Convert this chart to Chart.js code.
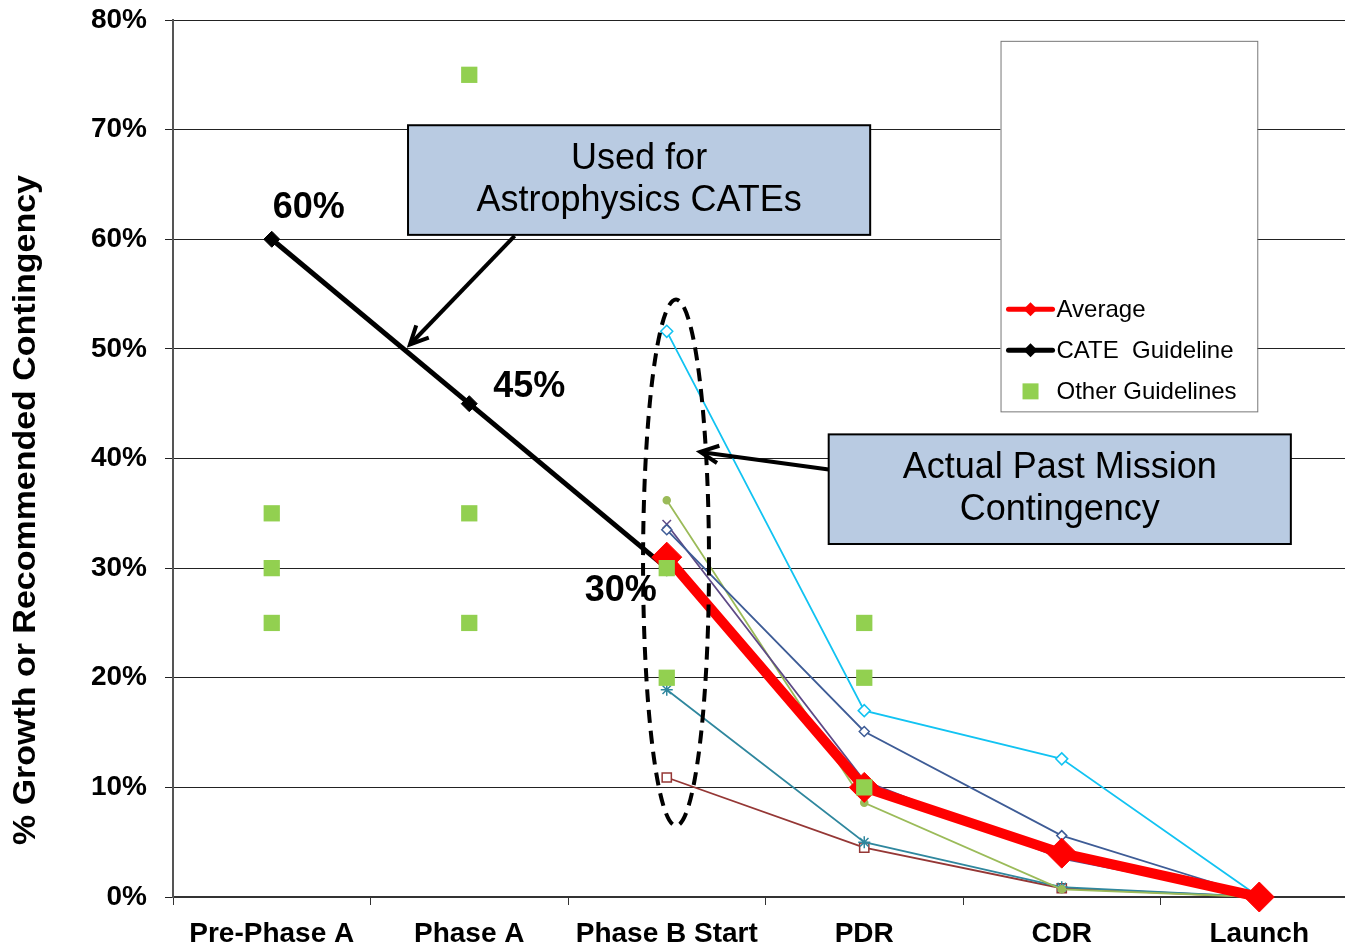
<!DOCTYPE html>
<html>
<head>
<meta charset="utf-8" />
<title>Contingency by Project Phase</title>
<style>
    body { margin: 0; background: #fff; overflow: hidden; }
    #chart { display: block; }
</style>
<script src="https://cdn.jsdelivr.net/npm/chart.js"></script>
</head>
<body>
<canvas id="chart" width="1358" height="948"></canvas>
<script>
// categories and values (percent)
const phases = ['Pre-Phase A', 'Phase A', 'Phase B Start', 'PDR', 'CDR', 'Launch'];

const averageVals = [null, null, 31, 10, 4, 0];
const cateVals    = [60, 45, 30, null, null, null];

const missionCyan   = [null, null, 51.6, 17.0, 12.6, 0];
const missionBlue   = [null, null, 33.5, 15.1, 5.6, 0];
const missionPurple = [null, null, 34.0, 10.6, 3.5, 0];
const missionOlive  = [null, null, 36.2, 8.6, 0.7, 0];
const missionTeal   = [null, null, 18.9, 5.0, 0.9, 0];
const missionBrown  = [null, null, 10.9, 4.5, 0.8, 0];

const otherPhases = ['Pre-Phase A', 'Pre-Phase A', 'Pre-Phase A', 'Phase A', 'Phase A', 'Phase A',
                     'Phase B Start', 'Phase B Start', 'PDR', 'PDR', 'PDR'];
const otherVals   = [35, 30, 25, 75, 35, 25, 30, 20, 25, 20, 10];

const FONT = '"Liberation Sans", Arial, sans-serif';

// callout boxes, placed in axis units (category index, percent)
const callouts = [
    { lines: ['Used for', 'Astrophysics CATEs'], x0: 0.69, x1: 3.03, y0: 70.4, y1: 60.4,
      arrowFrom: [1.23, 60.3], arrowTo: [0.70, 50.4] },
    { lines: ['Actual Past Mission', 'Contingency'], x0: 2.82, x1: 5.16, y0: 42.2, y1: 32.2,
      arrowFrom: [2.82, 39.0], arrowTo: [2.17, 40.6] }
];
const cateLabelOffsets = [[37, -31], [60, -17], [-46, 23]];

function thinSeries(label, data, color, style, radius, fill) {
    return {
        label, data, borderColor: color, backgroundColor: fill || '#fff',
        borderWidth: 1.8, pointStyle: style, pointRadius: radius,
        pointBorderWidth: 1.5, pointBorderColor: color, order: 3, spanGaps: false, clip: false
    };
}

function arrow(ctx, x0, y0, x1, y1) {
    ctx.beginPath();
    ctx.moveTo(x0, y0);
    ctx.lineTo(x1, y1);
    ctx.stroke();
    const a = Math.atan2(y1 - y0, x1 - x0), L = 20;
    ctx.beginPath();
    ctx.moveTo(x1 - L * Math.cos(a - 0.45), y1 - L * Math.sin(a - 0.45));
    ctx.lineTo(x1, y1);
    ctx.lineTo(x1 - L * Math.cos(a + 0.45), y1 - L * Math.sin(a + 0.45));
    ctx.stroke();
}

const overlay = {
    id: 'overlay',
    afterDatasetsDraw(chart) {
        const { ctx, scales: { x, y } } = chart;
        const px = v => x.getPixelForValue(v), py = v => y.getPixelForValue(v);
        ctx.save();

        // dashed ellipse round the Phase B Start values
        ctx.strokeStyle = '#000';
        ctx.lineWidth = 4;
        ctx.setLineDash([13, 8]);
        ctx.beginPath();
        const ex = px(2.047), ey = py(30.5);
        ctx.ellipse(ex, ey, px(2.047 + 0.167) - ex, py(30.5 - 24) - ey, 0, 0, Math.PI * 2);
        ctx.stroke();
        ctx.setLineDash([]);

        // callout boxes with arrows
        callouts.forEach(c => {
            const x0 = px(c.x0), x1 = px(c.x1), y0 = py(c.y0), y1 = py(c.y1);
            ctx.fillStyle = '#B9CBE2';
            ctx.fillRect(x0, y0, x1 - x0, y1 - y0);
            ctx.strokeStyle = '#000';
            ctx.lineWidth = 2;
            ctx.strokeRect(x0, y0, x1 - x0, y1 - y0);
            ctx.fillStyle = '#000';
            ctx.font = '36px ' + FONT;
            ctx.textAlign = 'center';
            ctx.textBaseline = 'middle';
            const cx = (x0 + x1) / 2, cy = (y0 + y1) / 2;
            ctx.fillText(c.lines[0], cx, cy - 21);
            ctx.fillText(c.lines[1], cx, cy + 21);
            ctx.lineWidth = 4;
            arrow(ctx, px(c.arrowFrom[0]), py(c.arrowFrom[1]), px(c.arrowTo[0]), py(c.arrowTo[1]));
        });

        // value labels next to the CATE guideline
        ctx.font = 'bold 36px ' + FONT;
        ctx.fillStyle = '#000';
        ctx.textAlign = 'center';
        ctx.textBaseline = 'middle';
        cateVals.forEach((v, i) => {
            if (v === null) return;
            const o = cateLabelOffsets[i];
            ctx.fillText(v + '%', px(i) + o[0], py(v) + o[1]);
        });
        ctx.restore();
    },
    afterDraw(chart) {
        const { ctx, scales: { x, y } } = chart;
        const px = v => x.getPixelForValue(v), py = v => y.getPixelForValue(v);
        ctx.save();

        // legend box
        const lx0 = px(3.69), lx1 = px(4.99), ly0 = py(78.1), ly1 = py(44.3);
        ctx.fillStyle = '#fff';
        ctx.fillRect(lx0, ly0, lx1 - lx0, ly1 - ly0);
        ctx.strokeStyle = '#777';
        ctx.lineWidth = 1;
        ctx.strokeRect(lx0 + 0.5, ly0 + 0.5, lx1 - lx0, ly1 - ly0);

        const rows = [
            { text: 'Average', color: '#FF0000', kind: 'line' },
            { text: 'CATE  Guideline', color: '#000', kind: 'line' },
            { text: 'Other Guidelines', color: '#92D050', kind: 'square' }
        ];
        ctx.font = '24px ' + FONT;
        ctx.textBaseline = 'middle';
        ctx.textAlign = 'left';
        rows.forEach((r, i) => {
            const ry = ly1 - 102 + i * 41;
            const sx0 = lx0 + 8, sx1 = lx0 + 52;
            if (r.kind === 'line') {
                ctx.strokeStyle = r.color;
                ctx.lineWidth = 5;
                ctx.lineCap = 'round';
                ctx.beginPath();
                ctx.moveTo(sx0, ry); ctx.lineTo(sx1, ry); ctx.stroke();
                ctx.fillStyle = r.color;
                ctx.beginPath();
                const m = (sx0 + sx1) / 2;
                ctx.moveTo(m, ry - 7); ctx.lineTo(m + 7, ry); ctx.lineTo(m, ry + 7); ctx.lineTo(m - 7, ry);
                ctx.fill();
            } else {
                ctx.fillStyle = r.color;
                ctx.fillRect((sx0 + sx1) / 2 - 8, ry - 8, 16, 16);
            }
            ctx.fillStyle = '#000';
            ctx.fillText(r.text, lx0 + 56, ry + 1);
        });

        // y axis title, condensed to the reference length
        const title = '% Growth or Recommended Contingency';
        ctx.font = 'bold 31px ' + FONT;
        const w = ctx.measureText(title).width;
        ctx.translate(26, 510);
        ctx.rotate(-Math.PI / 2);
        ctx.scale(670 / w, 1);
        ctx.textAlign = 'center';
        ctx.textBaseline = 'middle';
        ctx.fillStyle = '#000';
        ctx.fillText(title, 0, 0);
        ctx.restore();
    }
};

new Chart(document.getElementById('chart'), {
    type: 'line',
    data: {
        labels: phases,
        datasets: [
            {
                label: 'Other Guidelines',
                data: otherPhases.map((p, i) => ({ x: p, y: otherVals[i] })),
                showLine: false, pointStyle: 'rect', pointRadius: 11.5, pointBorderWidth: 0,
                backgroundColor: '#92D050', borderColor: '#92D050', order: 0, clip: false
            },
            {
                label: 'Average', data: averageVals, borderColor: '#FF0000', backgroundColor: '#FF0000',
                borderWidth: 10, pointStyle: 'rectRot', pointRadius: 15, pointBorderWidth: 1, order: 1, clip: false
            },
            {
                label: 'CATE  Guideline', data: cateVals, borderColor: '#000', backgroundColor: '#000',
                borderWidth: 5, pointStyle: 'rectRot', pointRadius: 8, pointBorderWidth: 1, order: 2, clip: false
            },
            thinSeries('Mission 1', missionCyan, '#12C3F2', 'rectRot', 6),
            thinSeries('Mission 2', missionBlue, '#3E5C96', 'rectRot', 5),
            thinSeries('Mission 3', missionPurple, '#5E4A86', 'crossRot', 6),
            thinSeries('Mission 4', missionOlive, '#9BBB59', 'circle', 3.5, '#9BBB59'),
            thinSeries('Mission 5', missionTeal, '#2F879E', 'star', 6),
            thinSeries('Mission 6', missionBrown, '#953735', 'rect', 6.5)
        ]
    },
    options: {
        responsive: false,
        animation: false,
        layout: { autoPadding: false, padding: { top: 20, right: 0, bottom: 0, left: 0 } },
        plugins: { legend: { display: false }, tooltip: { enabled: false } },
        scales: {
            x: {
                type: 'category',
                offset: true,
                grid: { offset: true, drawOnChartArea: false, drawTicks: true, tickLength: 8, color: '#333' },
                border: { color: '#333', width: 2 },
                ticks: { color: '#000', padding: 12, maxRotation: 0, autoSkip: false,
                         font: { family: FONT, size: 28, weight: 'bold' } },
                afterFit: s => { s.height = 51; s.paddingLeft = 0; s.paddingRight = 0; }
            },
            y: {
                min: 0, max: 80,
                grid: { color: '#222', lineWidth: 1, drawTicks: true, tickLength: 8 },
                border: { color: '#555', width: 2 },
                ticks: { stepSize: 10, color: '#000', padding: 18,
                         callback: v => v + '%',
                         font: { family: FONT, size: 28, weight: 'bold' } },
                afterFit: s => { s.width = 173; s.paddingTop = 0; s.paddingBottom = 0; }
            }
        }
    },
    plugins: [overlay]
});
</script>
</body>
</html>
